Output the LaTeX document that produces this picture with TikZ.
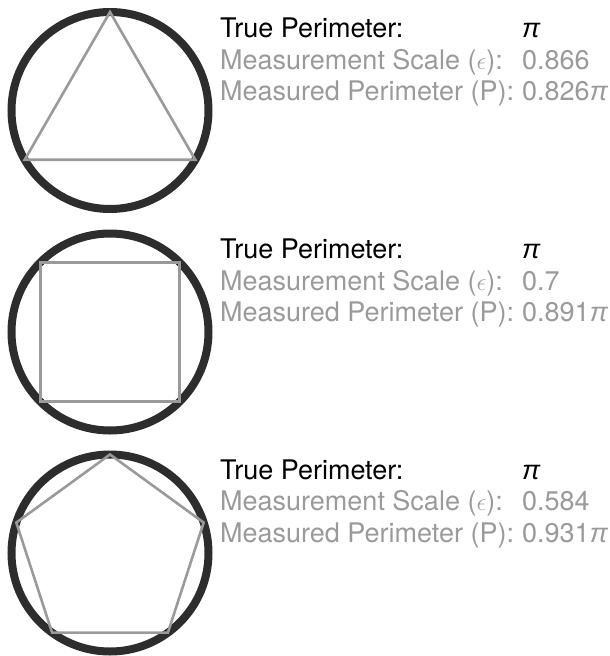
\documentclass[tikz,border=0pt]{standalone}
\usepackage{fontspec}
\setmainfont{TeX Gyre Heros}
\newfontfamily\pifont{Liberation Sans}
\definecolor{ringc}{HTML}{2D2D2D}
\definecolor{greyc}{HTML}{9A9A9A}
\newcommand{\mypi}{{\pifont\itshape π}}
\begin{document}
\begin{tikzpicture}[x=1pt,y=-1pt,
  ring/.style={draw=ringc, line width=8pt},
  poly/.style={draw=greyc, line width=2.6pt, line join=miter},
  lbl/.style={anchor=base west, inner sep=0pt, font=\fontsize{27}{31}\selectfont},
  head/.style={lbl, text=black},
  sub/.style={lbl, text=greyc}]
\useasboundingbox (0,0) rectangle (610,656);

% centres
\coordinate (c1) at (110,110.5);
\coordinate (c2) at (110,332);
\coordinate (c3) at (110,553);

% circles
\draw[ring] (c1) circle[radius=98.5];
\draw[ring] (c2) circle[radius=98.5];
\draw[ring] (c3) circle[radius=98.5];

% triangle
\draw[poly] ([shift={(-90:98.5)}]c1) -- ([shift={(30:98.5)}]c1) -- ([shift={(150:98.5)}]c1) -- cycle;
% square
\draw[poly] ([shift={(45:98.5)}]c2) -- ([shift={(135:98.5)}]c2) -- ([shift={(225:98.5)}]c2) -- ([shift={(315:98.5)}]c2) -- cycle;
% pentagon
\draw[poly] ([shift={(-90:98.5)}]c3) -- ([shift={(-18:98.5)}]c3) -- ([shift={(54:98.5)}]c3) -- ([shift={(126:98.5)}]c3) -- ([shift={(198:98.5)}]c3) -- cycle;

% block 1
\node[head] (t1) at (220,37.7) {True Perimeter:};
\node[head] (v1) at (522,37.7) {\mypi};
\node[sub] (s1) at (220,69.3) {Measurement Scale ($\epsilon$):};
\node[sub] (w1) at (522,69.3) {0.866};
\node[sub] (p1) at (220,100.7) {Measured Perimeter (P):};
\node[sub] (q1) at (522,100.7) {0.826\mypi};

% block 2
\node[head] (t2) at (220,258.4) {True Perimeter:};
\node[head] (v2) at (522,258.4) {\mypi};
\node[sub] (s2) at (220,290.0) {Measurement Scale ($\epsilon$):};
\node[sub] (w2) at (522,290.0) {0.7};
\node[sub] (p2) at (220,321.4) {Measured Perimeter (P):};
\node[sub] (q2) at (522,321.4) {0.891\mypi};

% block 3
\node[head] (t3) at (220,479.1) {True Perimeter:};
\node[head] (v3) at (522,479.1) {\mypi};
\node[sub] (s3) at (220,510.7) {Measurement Scale ($\epsilon$):};
\node[sub] (w3) at (522,510.7) {0.584};
\node[sub] (p3) at (220,542.1) {Measured Perimeter (P):};
\node[sub] (q3) at (522,542.1) {0.931\mypi};
\end{tikzpicture}
\end{document}
